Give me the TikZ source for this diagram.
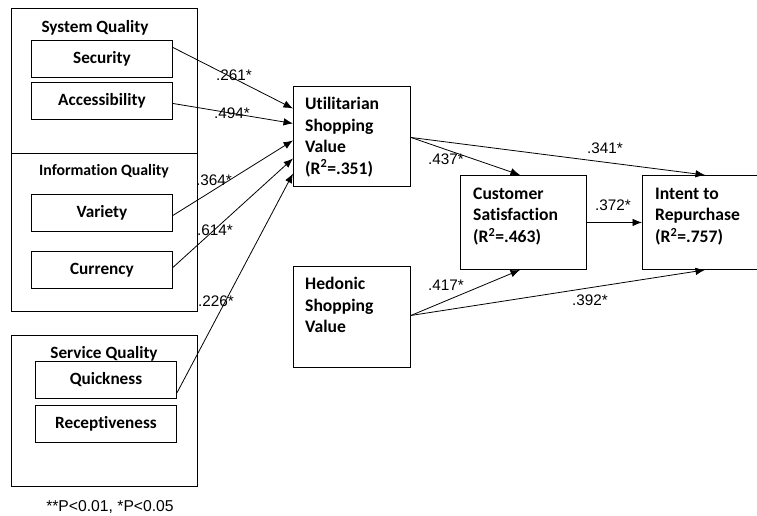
\documentclass[tikz,border=0pt]{standalone}
\usepackage{fontspec}
\setmainfont{Carlito}[Ligatures=NoCommon]
\newfontfamily\numfont{Liberation Sans}
\usetikzlibrary{arrows.meta}
\begin{document}
\begin{tikzpicture}[x=1pt,y=-1pt,
  frame/.style={draw, line width=0.9pt, rectangle, inner sep=0pt, anchor=north west},
  itembox/.style={frame, font=\bfseries\fontsize{17.2}{20}\selectfont},
  headtxt/.style={font=\bfseries\fontsize{17.2}{20}\selectfont, inner sep=0pt},
  bodytxt/.style={font=\bfseries\fontsize{17.6}{21.5}\selectfont, align=left, inner sep=0pt},
  coef/.style={font=\numfont\fontsize{15.3}{17}\selectfont, inner sep=0pt},
  note/.style={font=\numfont\fontsize{15.7}{18}\selectfont, inner sep=0pt},
  path/.style={line width=0.8pt, -{Latex[length=9.5pt,width=7.5pt]}}]
\useasboundingbox (0,0) rectangle (757,515);
\clip (0,0) rectangle (757,515);

% quality groups
\node[frame, minimum width=186pt, minimum height=303pt] (grpA) at (11,8) {};
\draw[line width=0.9pt] (11,153) coordinate (divL) -- (197,153) coordinate (divR);
\node[frame, minimum width=186pt, minimum height=151pt] (grpB) at (11,335) {};

\node[headtxt] (tSys) at (95,28) {System Quality};
\node[headtxt, font=\bfseries\fontsize{15.8}{18}\selectfont] (tInf) at (104,171) {Information Quality};
\node[headtxt] (tSrv) at (104,354) {Service Quality};

\node[itembox, minimum width=141pt, minimum height=37pt] (sec) at (31,40) {Security};
\node[itembox, minimum width=141pt, minimum height=37pt] (acc) at (31,82) {Accessibility};
\node[itembox, minimum width=141pt, minimum height=37pt] (var) at (31,194) {Variety};
\node[itembox, minimum width=141pt, minimum height=37pt] (cur) at (31,251) {Currency};
\node[itembox, minimum width=141pt, minimum height=37pt] (qui) at (35,361) {Quickness};
\node[itembox, minimum width=141pt, minimum height=37pt] (rec) at (35,405) {Receptiveness};

% constructs
\node[frame, minimum width=117pt, minimum height=100pt] (util) at (293,86) {};
\node[bodytxt, anchor=west] (utilT) at ([xshift=12pt,yshift=-0.5pt]util.west) {Utilitarian\\Shopping\\Value\\(R\textsuperscript{2}=.351)};

\node[frame, minimum width=117pt, minimum height=101pt] (hed) at (293,266) {};
\node[bodytxt, anchor=north west] (hedT) at (305,277) {Hedonic\\Shopping\\Value};

\node[frame, minimum width=126pt, minimum height=94pt] (cs) at (460,175) {};
\node[bodytxt, anchor=west] (csT) at ([xshift=13pt,yshift=6pt]cs.west) {Customer\\Satisfaction\\(R\textsuperscript{2}=.463)};

\node[frame, minimum width=125pt, minimum height=94pt] (ir) at (642,175) {};
\node[bodytxt, anchor=west] (irT) at ([xshift=13pt,yshift=6pt]ir.west) {Intent to\\Repurchase\\(R\textsuperscript{2}=.757)};

% paths into utilitarian value
\draw[path] ([yshift=11.5pt]sec.east) -- ([yshift=28pt]util.west);
\draw[path] ([yshift=-2.5pt]acc.east) -- ([yshift=13pt]util.west);
\draw[path] ([yshift=-2.5pt]var.east) -- ([yshift=-4pt]util.west);
\draw[path] ([yshift=2.5pt]cur.east) -- ([yshift=-22pt]util.west);
\draw[path] ([yshift=-13pt]qui.east) -- ([yshift=-37pt]util.west);

% structural paths
\draw[path] ([yshift=-1pt]util.east) -- ([xshift=60pt]cs.north west);
\draw[path] ([yshift=-1pt]util.east) -- ([xshift=63pt]ir.north west);
\draw[path] (cs.east) -- (ir.west);
\draw[path] ([yshift=1.5pt]hed.east) -- ([xshift=60pt]cs.south west);
\draw[path] ([yshift=1.5pt]hed.east) -- ([xshift=63pt]ir.south west);

% coefficients
\node[coef] (c1) at (234,75) {.261*};
\node[coef] (c2) at (232,113) {.494*};
\node[coef] (c3) at (214,180) {.364*};
\node[coef] (c4) at (215,230) {.614*};
\node[coef] (c5) at (216,301) {.226*};
\node[coef] (c6) at (446,159) {.437*};
\node[coef] (c7) at (605,148) {.341*};
\node[coef] (c8) at (613,205) {.372*};
\node[coef] (c9) at (446,285) {.417*};
\node[coef] (c10) at (590,300) {.392*};

\node[note] (sig) at (110,507) {**P<0.01, *P<0.05};
\end{tikzpicture}
\end{document}
